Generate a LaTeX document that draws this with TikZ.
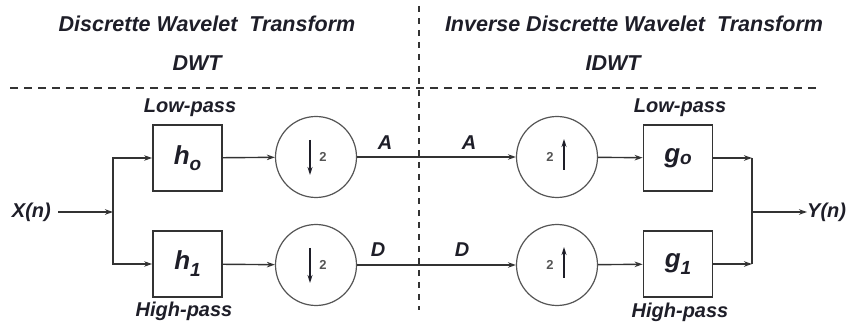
\documentclass[tikz,border=0pt]{standalone}
\usepackage{fontspec}
\setmainfont{Liberation Sans}
\usetikzlibrary{arrows.meta}
\definecolor{ink}{HTML}{1E1E28}
\definecolor{linec}{HTML}{333333}
\definecolor{circc}{HTML}{555555}
\tikzset{
  lbl/.style={font=\fontsize{20}{20}\selectfont\bfseries\itshape, text=ink, inner sep=0pt},
  ttl/.style={font=\fontsize{21.5}{22}\selectfont\bfseries\itshape, text=ink, inner sep=0pt},
  filt/.style={draw=linec, line width=1.8pt, minimum width=69pt, minimum height=66pt, inner sep=0pt, font=\fontsize{26}{26}\selectfont\bfseries\itshape, text=ink},
  samp/.style={circle, draw=circc, line width=1.2pt, minimum size=81pt, inner sep=0pt},
  conn/.style={draw=linec, line width=1.4pt},
  arr/.style={conn, -{Stealth[length=8pt,width=5.5pt]}},
  sep/.style={draw=linec, line width=1.4pt, dash pattern=on 8pt off 6pt},
  vsep/.style={draw=linec, line width=1.4pt, dash pattern=on 6pt off 6pt},
  small2/.style={font=\fontsize{13}{13}\selectfont\bfseries, text=circc, inner sep=0pt},
  inarr/.style={draw=ink, line width=1.2pt, -{Stealth[length=8pt,width=5pt]}}
}
\begin{document}
\begin{tikzpicture}[x=1pt,y=-1pt]
\useasboundingbox (0,0) rectangle (853,328);
% titles
\node[ttl] (t1) at (207,24) {Discrette Wavelet\ \ Transform};
\node[ttl] (t2) at (197,63) {DWT};
\node[ttl] (t3) at (634,24) {Inverse Discrette Wavelet\ \ Transform};
\node[ttl] (t4) at (613,63) {IDWT};
% separators
\coordinate (hl) at (10,88);
\coordinate (hr) at (818,88);
\coordinate (vt) at (419,6);
\coordinate (vb) at (419,310);
\path[sep] (hl) -- (hr);
\path[vsep] (vt) -- (vb);
% blocks
\node[filt] (h0) at (187.5,158) {h\raisebox{-6pt}{\fontsize{19}{19}\selectfont o}};
\node[filt] (h1) at (187.5,264) {h\raisebox{-7pt}{\fontsize{19}{19}\selectfont 1}};
\node[filt] (g0) at (678,158) {g\raisebox{-2pt}{\fontsize{19}{19}\selectfont o}};
\node[filt] (g1) at (678,264) {g\raisebox{-7pt}{\fontsize{19}{19}\selectfont 1}};
\node[samp] (d0) at (316,157) {};
\node[samp] (d1) at (316,265) {};
\node[samp] (u0) at (557,157) {};
\node[samp] (u1) at (557,265) {};
% inside circles
\foreach \c in {d0,d1}{
  \coordinate (\c a) at ([xshift=-6pt,yshift=17pt]\c.center);
  \coordinate (\c b) at ([xshift=-6pt,yshift=-18pt]\c.center);
  \path[inarr] (\c a) -- (\c b);
  \node[small2] (\c n) at ([xshift=7pt]\c.center) {2};
}
\foreach \c in {u0,u1}{
  \coordinate (\c a) at ([xshift=7pt,yshift=-13pt]\c.center);
  \coordinate (\c b) at ([xshift=7pt,yshift=18pt]\c.center);
  \path[inarr] (\c a) -- (\c b);
  \node[small2] (\c n) at ([xshift=-7pt]\c.center) {2};
}
% labels
\node[lbl] (lp1) at (190,108) {Low-pass};
\node[lbl] (hp1) at (184,311) {High-pass};
\node[lbl] (lp2) at (680,108) {Low-pass};
\node[lbl] (hp2) at (680,312) {High-pass};
\node[lbl] (a1) at (385,143) {A};
\node[lbl] (a2) at (469,143) {A};
\node[lbl] (dd1) at (378,250) {D};
\node[lbl] (dd2) at (462,250) {D};
\node[lbl, anchor=east] (xn) at (51,212) {X(n)};
\node[lbl, anchor=west] (yn) at (807,212) {Y(n)};
% connectors
\coordinate (split) at (113,212);
\coordinate (jt) at (752,158);
\coordinate (jb) at (752,264);
\coordinate (join) at (752,212);
\coordinate (xs) at (58,212);
\path[arr] (xs) -- (split);
\path[arr] (split) |- (h0.west);
\path[arr] (split) |- (h1.west);
\path[arr] (h0) -- (d0);
\path[arr] (h1) -- (d1);
\path[arr] (d0) -- (u0);
\path[arr] (d1) -- (u1);
\path[arr] (u0) -- (g0);
\path[arr] (u1) -- (g1);
\path[arr] (g0) -- (jt);
\path[arr] (g1) -- (jb);
\path[conn] (jt) -- (jb);
\path[arr] (join) -- (yn.west);
\end{tikzpicture}
\end{document}
